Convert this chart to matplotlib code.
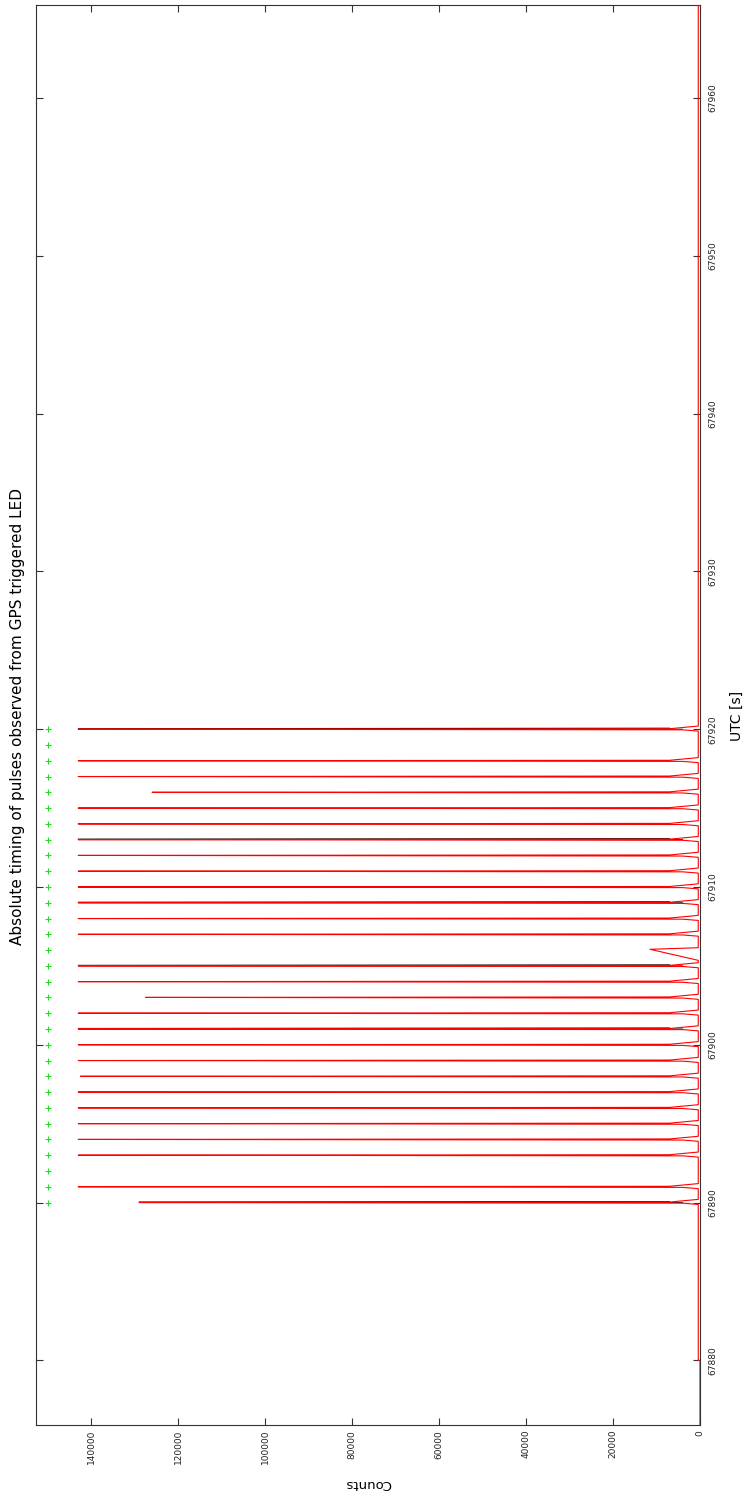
import numpy as np
import matplotlib
matplotlib.use("Agg")
import matplotlib.pyplot as plt

# LED pulse times [s UTC] and peak counts
pulse_t = [67890, 67891, 67893, 67894, 67895, 67896, 67897, 67898, 67899,
           67900, 67901, 67902, 67903, 67904, 67905, 67907, 67908, 67909,
           67910, 67911, 67912, 67913, 67914, 67915, 67916, 67917, 67918,
           67920]
pulse_peak = [129000, 143000, 143000, 143000, 143000, 143000, 143000, 142500,
              143000, 143000, 143000, 143000, 127500, 143000, 143000, 143000,
              143000, 143000, 143000, 143000, 143000, 143000, 143000, 143000,
              126000, 143000, 143000, 143000]
# the small blip at 67906
blip_t = 67906.05
blip_peak = 11500
# pulses that show up in black (second trace)
black_t = [67890, 67901, 67905, 67909, 67913, 67920]

gps_t = list(range(67890, 67921))   # GPS second marks
gps_level = 150000

t_start, t_on, t_end = 67875.9, 67880.0, 67965.9
base = 400


def pulse_shape(t, peak):
    # rise, tip, fast fall, slow tail back to baseline
    return ([t - 0.12, t - 0.04, t, t + 0.03, t + 0.2],
            [base, 4000, peak, 7000, base])


tt = [t_start, t_on, t_on]
cc = [0, 0, base]
for t, p in zip(pulse_t, pulse_peak):
    if t == 67907:
        tt += [67905.35, blip_t, 67906.15]
        cc += [base, blip_peak, base]
    a, b = pulse_shape(t, p)
    tt += a
    cc += b
tt += [t_end]
cc += [base]
order = np.argsort(tt, kind="stable")
tt = np.array(tt)[order]
cc = np.array(cc)[order]

fig = plt.figure(figsize=(7.49, 15), dpi=100)
ax = fig.add_axes([36 / 749, 75 / 1500, 664 / 749, 1420 / 1500])

for t in black_t:
    p = pulse_peak[pulse_t.index(t)]
    a, b = pulse_shape(t, p)
    ax.plot(b[1:4], np.array(a[1:4]) + 0.04, color="black", lw=0.6,
            zorder=2)
ax.plot(cc, tt, color="red", lw=0.8, zorder=3)
ax.plot([gps_level] * len(gps_t), gps_t, ls="none", marker="+",
        color="#22dd22", ms=5, mew=0.8, zorder=5)

ax.set_xlim(152700, 0)
ax.set_ylim(t_start, t_end)
ax.set_xticks(np.arange(0, 140001, 20000))
ax.set_yticks(np.arange(67880, 67961, 10))
ax.yaxis.tick_right()
ax.tick_params(axis="both", direction="in", length=5, width=0.8,
               color="#333333", labelsize=6.5, labelcolor="#222222",
               top=True, left=True, right=True, bottom=True,
               labelleft=False, labelright=True)
ax.tick_params(axis="y", pad=6)
for lab in ax.get_xticklabels():
    lab.set_rotation(90)
for lab in ax.get_yticklabels():
    lab.set_rotation(90)
    lab.set_va("center")
for s in ax.spines.values():
    s.set_color("#333333")
    s.set_linewidth(0.8)

fig.text(18 / 749, 1 - 716 / 1500,
         "Absolute timing of pulses observed from GPS triggered LED",
         rotation=90, ha="center", va="center", fontsize=11)
fig.text(737 / 749, 1 - 716 / 1500, "UTC [s]", rotation=90,
         ha="center", va="center", fontsize=10)
fig.text(368 / 749, 1 - 1484 / 1500, "Counts", rotation=180,
         ha="center", va="center", fontsize=9.5)

fig.savefig("out.png", dpi=100)
